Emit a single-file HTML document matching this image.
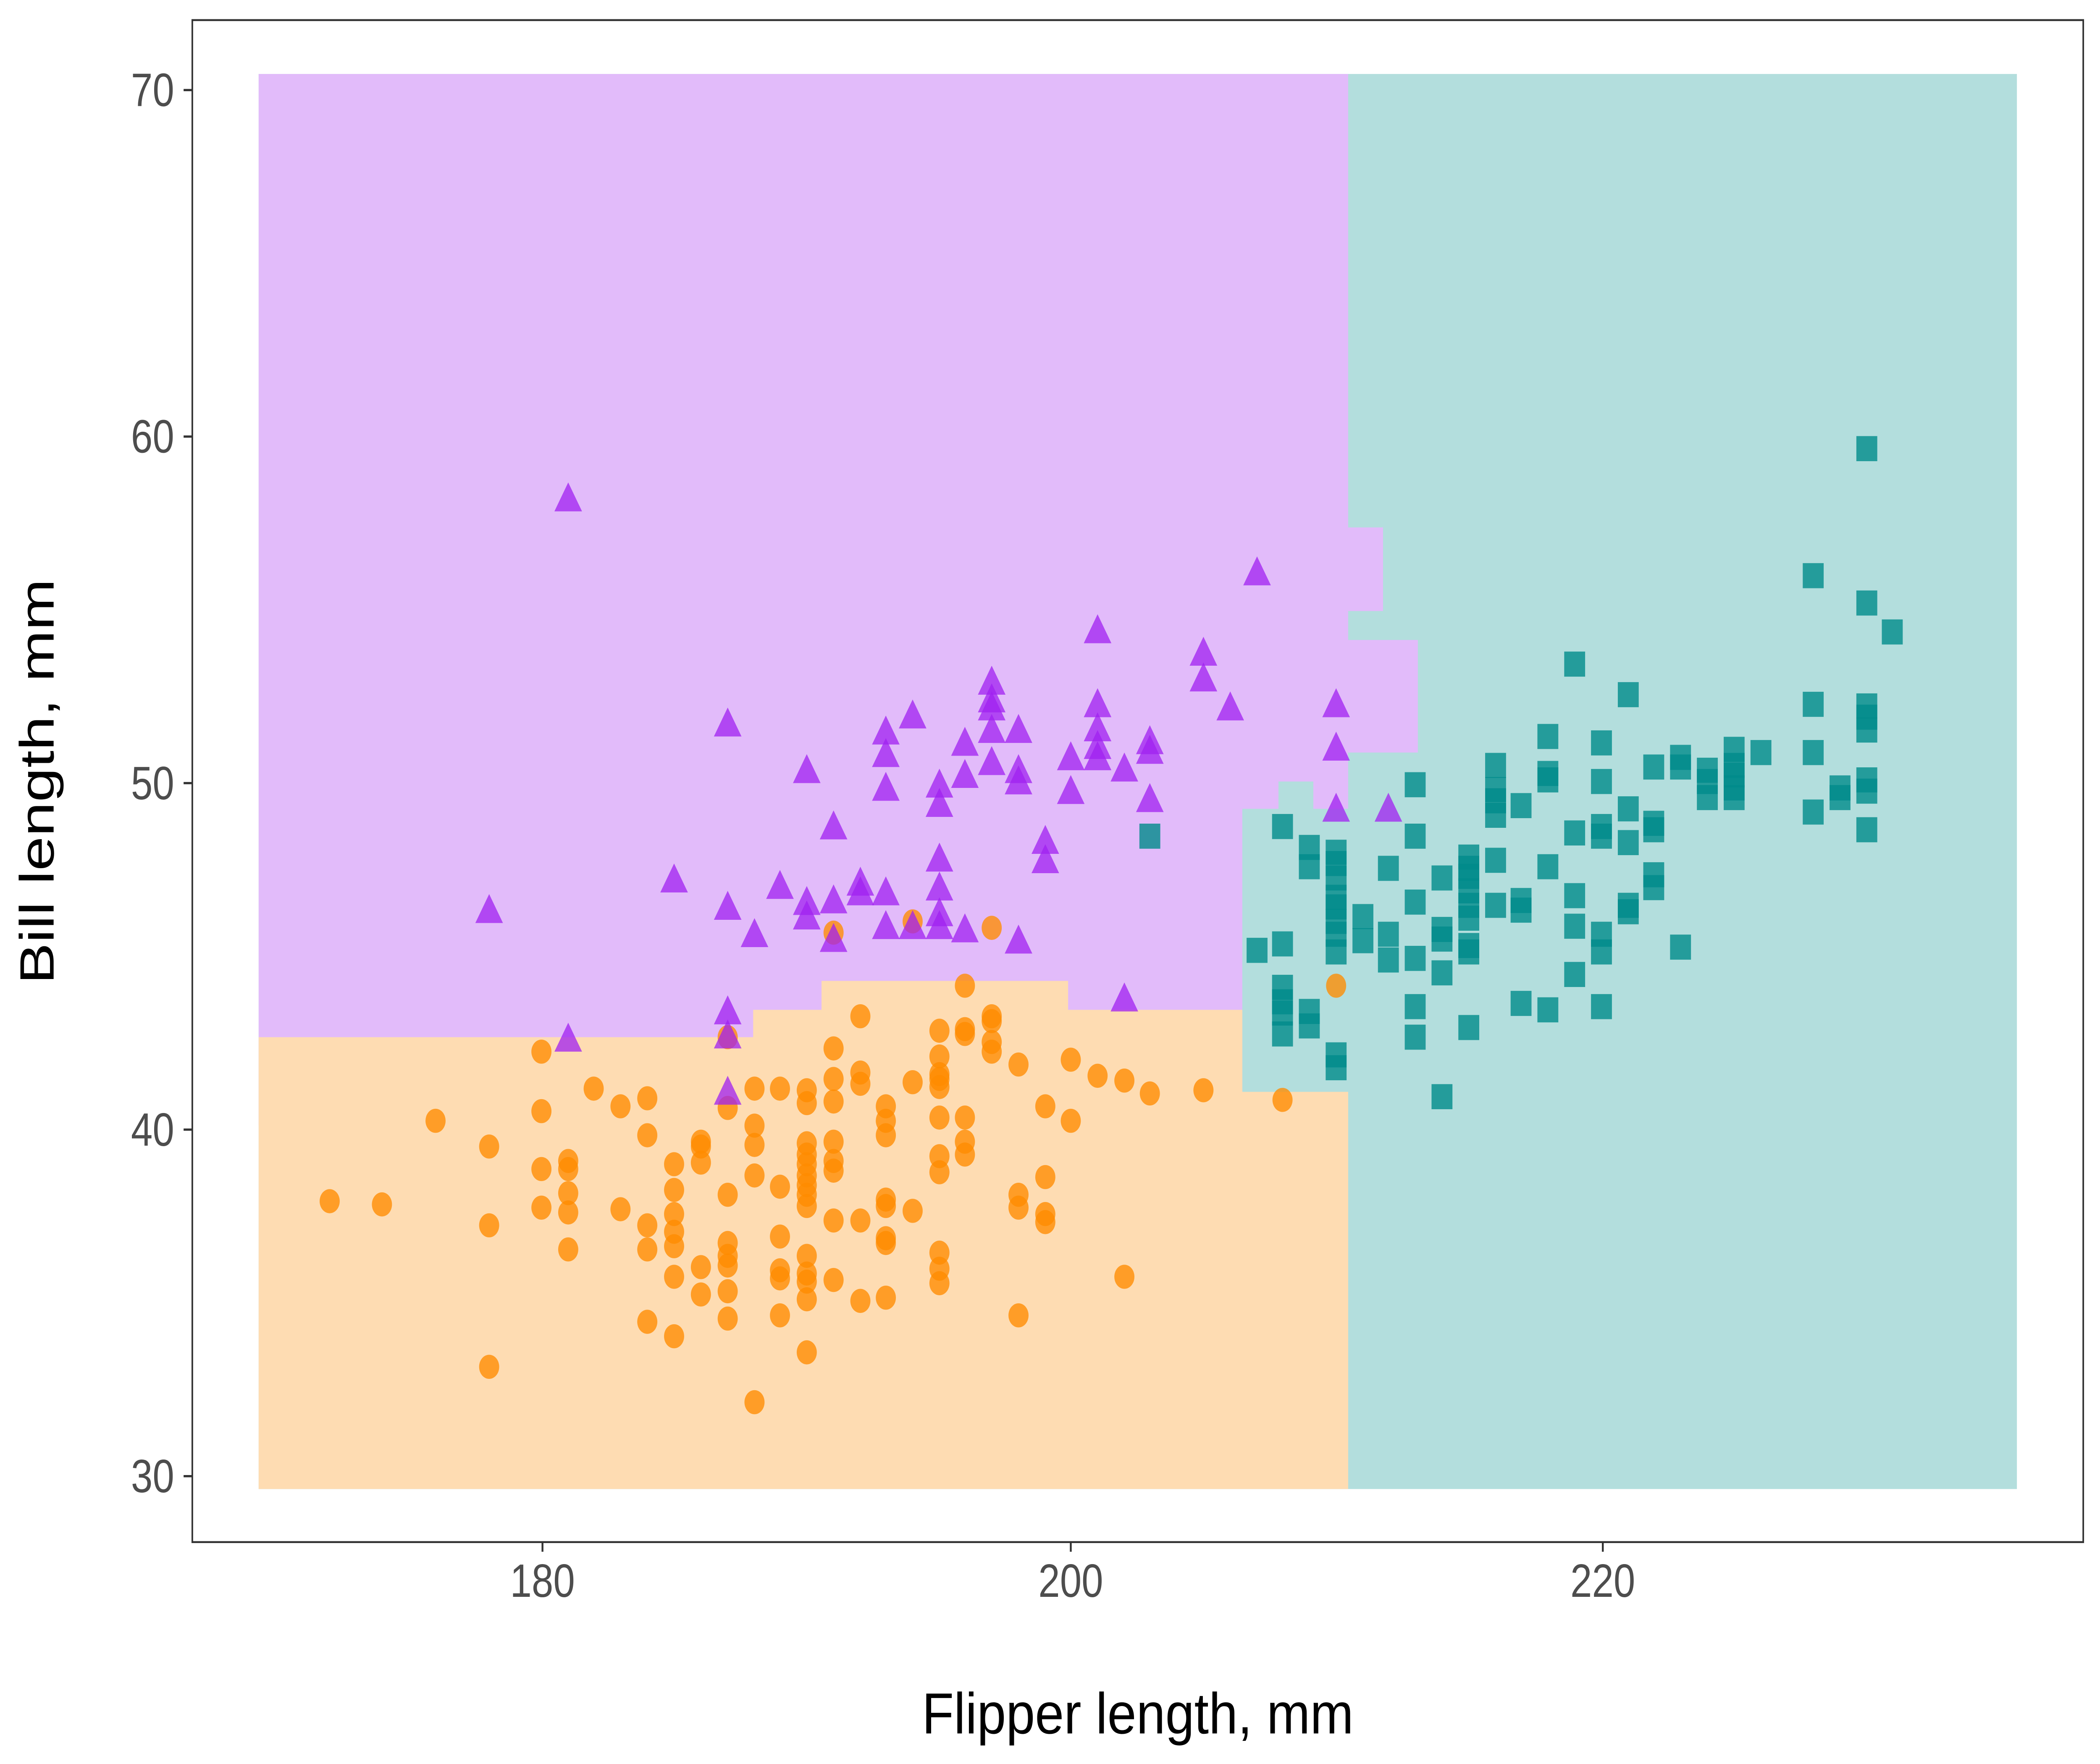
<!DOCTYPE html>
<html><head><meta charset="utf-8"><style>html,body{margin:0;padding:0;background:#fff;overflow:hidden;width:100%;height:100%}svg{display:block;width:100vw;height:100vh}</style></head>
<body>
<svg xmlns="http://www.w3.org/2000/svg" viewBox="0 0 1567 1097" preserveAspectRatio="none" font-family="Liberation Sans, sans-serif">
<rect width="1567" height="1097" fill="#fff"/>
<rect x="193" y="46" width="1312" height="880" fill="#b3dedd"/>
<path d="M193,46 H1006 V328 H1032 V380 H1006 V398 H1058 V468 H1006 V503 H980 V486 H954 V503 H927 V700 H193 Z" fill="#e2bbfa"/>
<path d="M193,645 H562 V628 H613 V610 H797 V628 H927 V679 H1006 V926 H193 Z" fill="#fedcb2"/>
<g id="orange" fill="#ff8c00" fill-opacity="0.78"></g>
<g id="purple" fill="#a020f0" fill-opacity="0.75"></g>
<g id="teal" fill="#008b8b" fill-opacity="0.8"></g>
<rect x="143.5" y="12.5" width="1411" height="946.5" fill="none" stroke="#333" stroke-width="1.2"/>
<g stroke="#333" stroke-width="1.4">
<line x1="137" x2="143" y1="56" y2="56"/><line x1="137" x2="143" y1="271.5" y2="271.5"/><line x1="137" x2="143" y1="487" y2="487"/><line x1="137" x2="143" y1="702.5" y2="702.5"/><line x1="137" x2="143" y1="918" y2="918"/>
<line x1="404.8" x2="404.8" y1="959" y2="965"/><line x1="799" x2="799" y1="959" y2="965"/><line x1="1196" x2="1196" y1="959" y2="965"/>
</g>
<g fill="#4d4d4d" font-size="29" text-anchor="end">
<text x="130" y="66">70</text><text x="130" y="281.5">60</text><text x="130" y="497">50</text><text x="130" y="712.5">40</text><text x="130" y="928">30</text>
</g>
<g fill="#4d4d4d" font-size="29" text-anchor="middle">
<text x="404.8" y="993">180</text><text x="799" y="993">200</text><text x="1196" y="993">220</text>
</g>
<text x="849" y="1078" font-size="36" text-anchor="middle" fill="#000" textLength="322" lengthAdjust="spacingAndGlyphs">Flipper length, mm</text>
<text transform="translate(40,486) rotate(-90)" font-size="36" text-anchor="middle" fill="#000" textLength="252" lengthAdjust="spacingAndGlyphs">Bill length, mm</text>
<script>
var NS="http://www.w3.org/2000/svg";
var O=[[246,747],[285,749],[325,697],[365,713],[365,762],[365,850],[404,654],[404,691],[404,727],[404,751],[424,722],[424,727],[424,742],[424,754],[424,777],[443,677],[463,688],[463,752],[483,683],[483,706],[483,762],[483,777],[483,822],[503,724],[503,740],[503,755],[503,766],[503,775],[503,794],[503,831],[523,710],[523,713],[523,723],[523,788],[523,805],[543,689],[543,743],[543,773],[543,781],[543,787],[543,803],[543,820],[543,645],[563,677],[563,700],[563,712],[563,731],[563,872],[582,677],[582,738],[582,769],[582,790],[582,795],[582,818],[602,678],[602,686],[602,711],[602,718],[602,724],[602,731],[602,737],[602,743],[602,750],[602,781],[602,792],[602,797],[602,808],[602,841],[622,652],[622,671],[622,685],[622,710],[622,722],[622,728],[622,759],[622,796],[622,580],[642,632],[642,667],[642,674],[642,759],[642,809],[661,688],[661,697],[661,706],[661,746],[661,750],[661,770],[661,773],[661,807],[681,573],[681,673],[681,753],[701,641],[701,657],[701,668],[701,671],[701,676],[701,695],[701,719],[701,729],[701,779],[701,789],[701,798],[720,613],[720,640],[720,643],[720,695],[720,710],[720,718],[740,577],[740,632],[740,635],[740,648],[740,654],[760,662],[760,743],[760,751],[760,818],[780,688],[780,732],[780,755],[780,760],[799,659],[799,697],[819,669],[839,672],[839,794],[858,680],[898,678],[957,684],[997,613]];
var P=[[365,568],[424,312],[424,648],[503,549],[543,452],[543,566],[543,631],[543,646],[543,681],[563,583],[582,553],[602,481],[602,563],[602,572],[622,516],[622,562],[622,586],[642,551],[642,557],[661,457],[661,471],[661,492],[661,557],[661,578],[681,578],[681,447],[701,490],[701,502],[701,536],[701,554],[701,570],[701,578],[720,464],[720,484],[720,580],[740,426],[740,437],[740,442],[740,456],[740,476],[760,456],[760,481],[760,488],[760,587],[780,525],[780,537],[799,473],[799,494],[819,394],[819,440],[819,455],[819,466],[819,473],[839,480],[839,623],[858,463],[858,469],[858,499],[898,408],[898,424],[918,442],[938,358],[997,440],[997,467],[997,505],[1036,505]];
var T=[[858,520],[938,591],[957,514],[957,587],[957,614],[957,623],[957,630],[957,643],[977,527],[977,539],[977,629],[977,638],[997,530],[997,537],[997,546],[997,558],[997,564],[997,573],[997,581],[997,592],[997,656],[997,664],[1017,570],[1017,585],[1036,540],[1036,581],[1036,597],[1056,488],[1056,520],[1056,561],[1056,596],[1056,626],[1056,645],[1076,546],[1076,578],[1076,584],[1076,605],[1076,682],[1096,533],[1096,540],[1096,545],[1096,554],[1096,563],[1096,571],[1096,588],[1096,592],[1096,639],[1116,476],[1116,491],[1116,498],[1116,507],[1116,535],[1116,563],[1135,501],[1135,560],[1135,566],[1135,624],[1155,458],[1155,481],[1155,485],[1155,539],[1155,628],[1175,413],[1175,518],[1175,557],[1175,576],[1175,606],[1195,462],[1195,486],[1195,514],[1195,520],[1195,581],[1195,592],[1195,626],[1215,432],[1215,503],[1215,524],[1215,563],[1215,567],[1234,477],[1234,512],[1234,516],[1234,544],[1234,552],[1254,471],[1254,477],[1254,589],[1274,479],[1274,486],[1274,496],[1294,466],[1294,476],[1294,482],[1294,490],[1294,496],[1314,468],[1353,358],[1353,438],[1353,468],[1353,505],[1373,490],[1373,496],[1393,375],[1393,439],[1393,446],[1393,454],[1393,485],[1393,492],[1393,516],[1393,279],[1412,393]];
var g=document.getElementById("orange");
O.forEach(function(p){var c=document.createElementNS(NS,"circle");c.setAttribute("cx",p[0]);c.setAttribute("cy",p[1]);c.setAttribute("r",7.5);g.appendChild(c);});
g=document.getElementById("purple");
P.forEach(function(p){var c=document.createElementNS(NS,"polygon");var x=p[0],y=p[1];c.setAttribute("points",(x-10.3)+","+(y+6)+" "+(x+10.3)+","+(y+6)+" "+x+","+(y-12));g.appendChild(c);});
g=document.getElementById("teal");
T.forEach(function(p){var c=document.createElementNS(NS,"rect");c.setAttribute("x",p[0]-7.8);c.setAttribute("y",p[1]-7.8);c.setAttribute("width",15.6);c.setAttribute("height",15.6);g.appendChild(c);});
</script>
</svg>
</body></html>
